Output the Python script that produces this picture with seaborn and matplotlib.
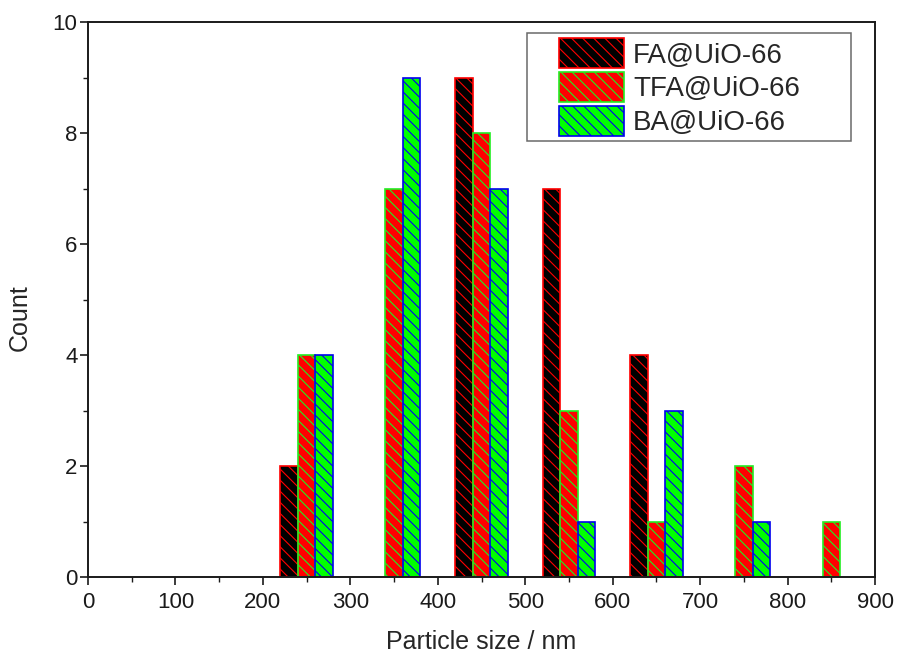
import matplotlib
matplotlib.use("Agg")
import matplotlib.pyplot as plt
import seaborn as sns
import pandas as pd
from matplotlib.patches import Patch, Rectangle
from matplotlib.legend_handler import HandlerPatch
from matplotlib.ticker import MultipleLocator

sizes = [250, 350, 450, 550, 650, 750, 850]
series = ["FA@UiO-66", "TFA@UiO-66", "BA@UiO-66"]
fa_counts = [2, 0, 9, 7, 4, 0, 0]
tfa_counts = [4, 7, 8, 3, 1, 2, 1]
ba_counts = [4, 9, 7, 1, 3, 1, 0]

fills = ["#000000", "#ff0000", "#00ff00"]
edges = ["#ff0000", "#22ee22", "#0000ee"]
HATCH = "\\\\\\"

rows = []
for name, vals in zip(series, [fa_counts, tfa_counts, ba_counts]):
    for s, v in zip(sizes, vals):
        rows.append({"size": s, "count": v, "sample": name})
df = pd.DataFrame(rows)

sns.set_theme(style="ticks")
plt.rcParams["font.family"] = ["Liberation Sans", "DejaVu Sans"]
plt.rcParams["hatch.linewidth"] = 0.8

fig = plt.figure(figsize=(8.99, 6.55), dpi=100)
ax = fig.add_axes([88 / 899, 1 - 577 / 655, 787 / 899, 555 / 655])

sns.barplot(data=df, x="size", y="count", hue="sample", hue_order=series,
            palette=fills, native_scale=True, width=0.6, dodge=True,
            errorbar=None, legend=False, ax=ax, saturation=1)

for i, cont in enumerate(ax.containers):
    for p in cont.patches:
        p.set_facecolor(fills[i])
        p.set_edgecolor(edges[i])
        p.set_hatch(HATCH)
        p.set_linewidth(1.2 if p.get_height() > 0 else 0)

ax.set_xlim(0, 900)
ax.set_ylim(0, 10)
ax.xaxis.set_major_locator(MultipleLocator(100))
ax.xaxis.set_minor_locator(MultipleLocator(50))
ax.yaxis.set_major_locator(MultipleLocator(2))
ax.yaxis.set_minor_locator(MultipleLocator(1))
ax.tick_params(which="major", direction="out", length=6, width=1.2,
               labelsize=16, colors="#1a1a1a")
ax.tick_params(axis="x", which="major", pad=4.5)
ax.tick_params(axis="y", which="major", pad=1.5)
ax.tick_params(which="minor", direction="out", length=3.5, width=1.0, colors="#1a1a1a")
for sp in ax.spines.values():
    sp.set_visible(True)
    sp.set_linewidth(1.4)
    sp.set_color("#1a1a1a")

ax.set_xlabel("Particle size / nm", fontsize=18)
ax.set_ylabel("Count", fontsize=18)
ax.xaxis.set_label_coords(0.5, -0.096)
ax.yaxis.set_label_coords(-0.071, 0.468)

RECT_W_PT = 65 * 72 / 100


def offset_rect(legend, orig_handle, xdescent, ydescent, width, height, fontsize):
    return Rectangle((-xdescent + width - RECT_W_PT, -ydescent), RECT_W_PT, height)


handles = [Patch(facecolor=fills[i], edgecolor=edges[i], hatch=HATCH, linewidth=1.2)
           for i in range(3)]
leg = ax.legend(handles=handles, labels=series, loc="upper left",
                bbox_to_anchor=(0.558, 0.784, 0.4116, 0.196), mode="expand",
                borderaxespad=0, fontsize=20,
                frameon=True, fancybox=False, edgecolor="#444444",
                handlelength=3.31, handleheight=1.3, labelspacing=0.12,
                handletextpad=0.32, borderpad=0.18,
                handler_map={Patch: HandlerPatch(patch_func=offset_rect)})
leg.get_frame().set_linewidth(1.1)

fig.savefig("out.png", dpi=100)
